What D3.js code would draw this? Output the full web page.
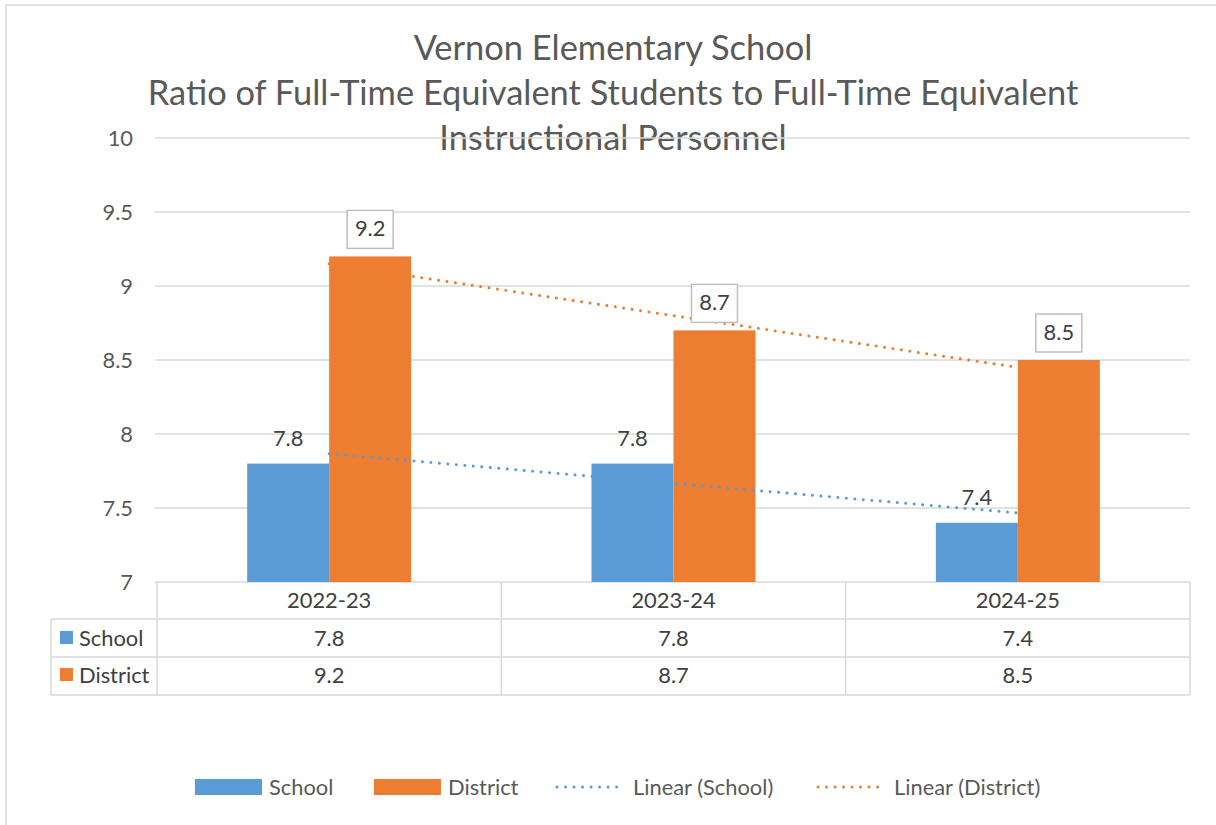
<!DOCTYPE html>
<html><head><meta charset="utf-8">
<script src="https://cdn.jsdelivr.net/npm/d3@7"></script>
<style>body{margin:0;background:#fff} svg{display:block} text{font-family:Lato,"Open Sans",sans-serif}</style>
</head><body><svg id="c" width="1216" height="825"></svg>
<script>
const titleLines = ["Vernon Elementary School","Ratio of Full-Time Equivalent Students to Full-Time Equivalent","Instructional Personnel"];
const categories = ["2022-23","2023-24","2024-25"];
const seriesNames = ["School","District"];
const schoolValues = [7.8,7.8,7.4];
const districtValues = [9.2,8.7,8.5];
const yTicks = [7,7.5,8,8.5,9,9.5,10];
const legendLabels = ["School","District","Linear (School)","Linear (District)"];
const colors = {School:"#5b9bd5", District:"#ed7d31"};

const svg = d3.select("#c");
const seriesValues = {School: schoolValues, District: districtValues};

// font scale to mimic Calibri widths
const probe = svg.append("text").attr("font-size",37).text(titleLines[1]);
const fscale = 931 / probe.node().getComputedTextLength();
probe.remove();
const fs = n => n * fscale;

// outer border
svg.append("rect").attr("x",6).attr("y",5).attr("width",1400).attr("height",1000)
  .attr("fill","none").attr("stroke","#d9d9d9").attr("stroke-width",1.5);

const L=157, R=1190, T=138, B=582;
const y = d3.scaleLinear().domain([7,10]).range([B,T]);
const x = d3.scaleBand().domain(categories).range([L,R]);
const x1 = d3.scaleBand().domain(seriesNames).range([0,x.bandwidth()]).paddingInner(0).paddingOuter(1.1);

// title
svg.append("g").selectAll("text").data(titleLines).join("text")
  .attr("x",613).attr("y",(d,i)=>60+i*45).attr("text-anchor","middle")
  .attr("font-size",fs(37)).attr("fill","#595959").text(d=>d);

// gridlines
svg.append("g").selectAll("line").data(yTicks).join("line")
  .attr("x1",155).attr("x2",R).attr("y1",d=>y(d)).attr("y2",d=>y(d))
  .attr("stroke","#d9d9d9").attr("stroke-width",1.5);

// y tick labels
svg.append("g").selectAll("text").data(yTicks).join("text")
  .attr("x",133).attr("y",d=>y(d)+7.5).attr("text-anchor","end")
  .attr("font-size",fs(23.5)).attr("fill","#595959").text(d=>d3.format("~g")(d));

// bars
const groups = svg.append("g").selectAll("g").data(categories).join("g")
  .attr("transform",d=>`translate(${x(d)},0)`);
groups.selectAll("rect").data((c,i)=>seriesNames.map(s=>({s,v:seriesValues[s][i]}))).join("rect")
  .attr("x",d=>x1(d.s)).attr("width",x1.bandwidth())
  .attr("y",d=>y(d.v)).attr("height",d=>B-y(d.v))
  .attr("fill",d=>colors[d.s]);

// trend lines
function fit(vals){
  const n=vals.length, xs=vals.map((v,i)=>i+1);
  const mx=d3.mean(xs), my=d3.mean(vals);
  const b=d3.sum(xs.map((xx,i)=>(xx-mx)*(vals[i]-my)))/d3.sum(xs.map(xx=>(xx-mx)**2));
  const a=my-b*mx;
  return [1,n].map(k=>({k, v:a+b*k}));
}
const cx = i => x(categories[i]) + x.bandwidth()/2;
seriesNames.forEach(s=>{
  const pts = fit(seriesValues[s]);
  svg.append("path").attr("d",d3.line().x(p=>cx(p.k-1)).y(p=>y(p.v))(pts))
    .attr("fill","none").attr("stroke",colors[s]).attr("stroke-width",3)
    .attr("stroke-linecap","round").attr("stroke-dasharray","0.01 8.5");
});

// data labels
const lab = svg.append("g");
categories.forEach((c,i)=>{
  const sx = x(c)+x1("School")+x1.bandwidth()/2;
  lab.append("text").attr("x",sx).attr("y",y(schoolValues[i])-17.5).attr("text-anchor","middle")
    .attr("font-size",fs(23.5)).attr("fill","#404040").text(d3.format(".1f")(schoolValues[i]));
  const dx = x(c)+x1("District")+x1.bandwidth()/2;
  const bt = y(districtValues[i])-8-38;
  lab.append("rect").attr("x",dx-23).attr("y",bt).attr("width",46).attr("height",38)
    .attr("fill","#fff").attr("stroke","#bfbfbf").attr("stroke-width",1.5);
  lab.append("text").attr("x",dx).attr("y",bt+26).attr("text-anchor","middle")
    .attr("font-size",fs(23.5)).attr("fill","#404040").text(d3.format(".1f")(districtValues[i]));
});

// data table
const rows = [582,619,657,695];
const tg = svg.append("g").attr("stroke","#d9d9d9").attr("stroke-width",1.5);
[619,657,695].forEach(yy=>tg.append("line").attr("x1",51).attr("x2",R).attr("y1",yy).attr("y2",yy));
tg.append("line").attr("x1",51).attr("x2",51).attr("y1",619).attr("y2",695);
[L, ...categories.slice(1).map(c=>x(c)), R].forEach(xx=>tg.append("line").attr("x1",xx).attr("x2",xx).attr("y1",582).attr("y2",695));
svg.append("g").selectAll("text").data(categories).join("text")
  .attr("x",d=>x(d)+x.bandwidth()/2).attr("y",608).attr("text-anchor","middle")
  .attr("font-size",fs(23.5)).attr("fill","#404040").text(d=>d);
seriesNames.forEach((s,r)=>{
  const base = r===0?646:683;
  svg.append("rect").attr("x",60).attr("y",base-15).attr("width",13).attr("height",13).attr("fill",colors[s]);
  svg.append("text").attr("x",79).attr("y",base).attr("font-size",fs(23.5)).attr("fill","#404040").text(s);
  svg.append("g").selectAll("text").data(seriesValues[s]).join("text")
    .attr("x",(d,i)=>x(categories[i])+x.bandwidth()/2).attr("y",base).attr("text-anchor","middle")
    .attr("font-size",fs(23.5)).attr("fill","#404040").text(d=>d3.format(".1f")(d));
});

// legend
const lg = svg.append("g");
const legX = [195,374,556,817];
legendLabels.forEach((t,i)=>{
  const col = colors[seriesNames[i%2]];
  if(i<2){
    lg.append("rect").attr("x",legX[i]).attr("y",779).attr("width",67).attr("height",16).attr("fill",col);
  } else {
    lg.append("line").attr("x1",legX[i]+1).attr("x2",legX[i]+65).attr("y1",787).attr("y2",787)
      .attr("stroke",col).attr("stroke-width",3).attr("stroke-linecap","round").attr("stroke-dasharray","0.01 8.5");
  }
  lg.append("text").attr("x",legX[i]+(i<2?74:77)).attr("y",795).attr("font-size",fs(23.5)).attr("fill","#595959").text(t);
});
</script></body></html>
